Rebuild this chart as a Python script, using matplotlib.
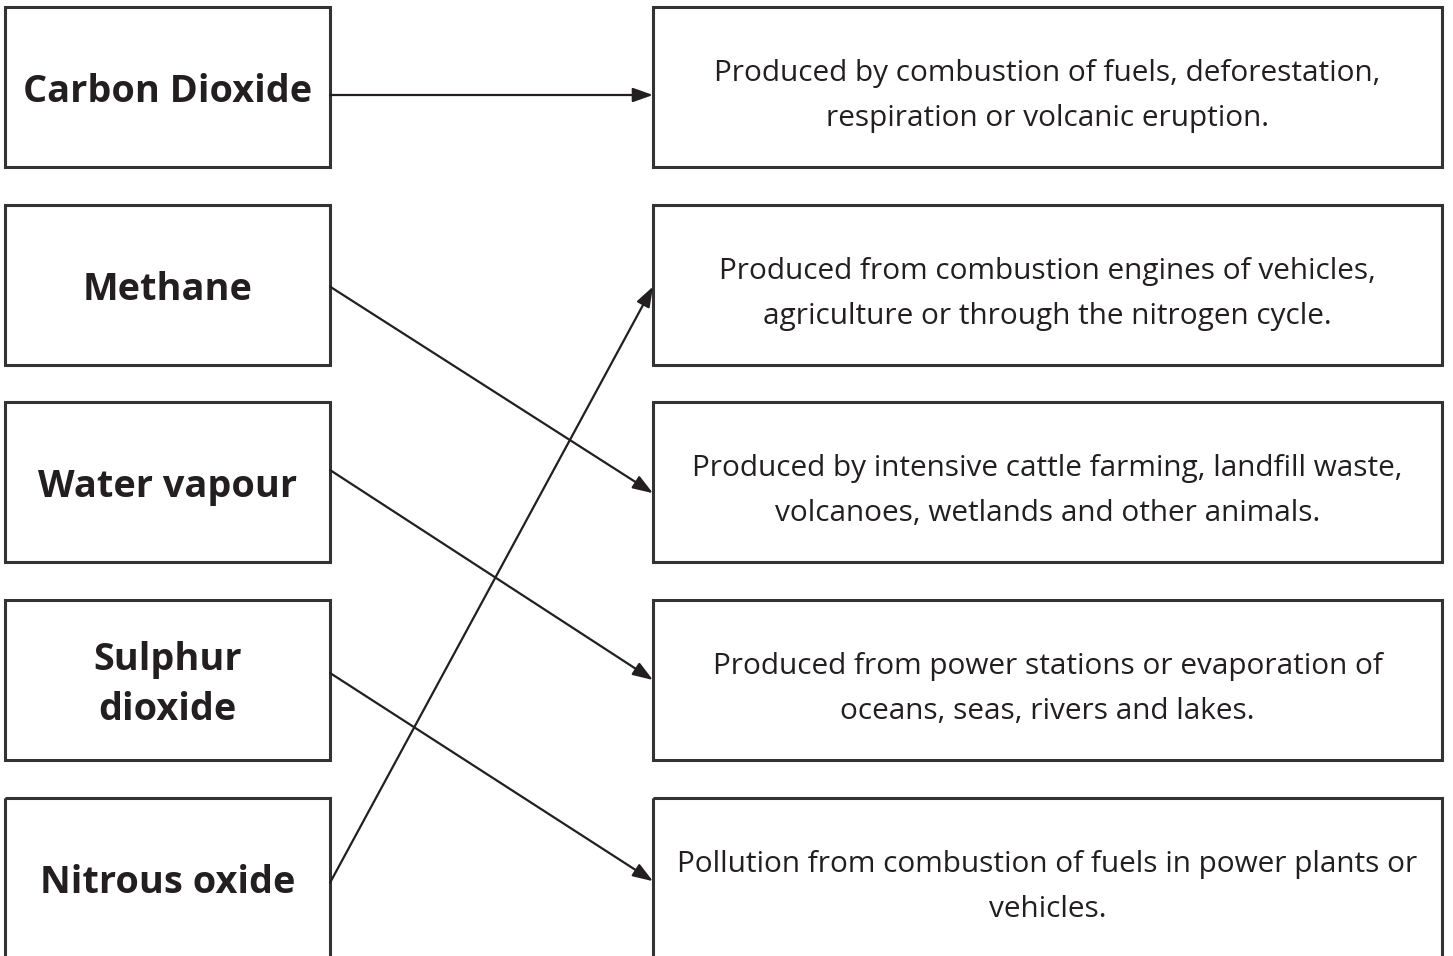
import matplotlib
matplotlib.use("Agg")
import matplotlib.pyplot as plt
from matplotlib.patches import Rectangle

W, H = 1453, 956
DPI = 100

left_labels = ["Carbon Dioxide", "Methane", "Water vapour", "Sulphur\ndioxide", "Nitrous oxide"]
right_labels = [
    "Produced by combustion of fuels, deforestation,\nrespiration or volcanic eruption.",
    "Produced from combustion engines of vehicles,\nagriculture or through the nitrogen cycle.",
    "Produced by intensive cattle farming, landfill waste,\nvolcanoes, wetlands and other animals.",
    "Produced from power stations or evaporation of\noceans, seas, rivers and lakes.",
    "Pollution from combustion of fuels in power plants or\nvehicles.",
]
# index of right box that each left box points to
matches = [0, 2, 3, 4, 1]
# where along each box height the arrow starts / ends (fraction from top)
start_frac = [0.55, 0.51, 0.425, 0.456, 0.53]
end_frac = [0.55, 0.57, 0.50, 0.52, 0.51]

# layout
box_tops = [7, 205, 402, 600, 798]
box_h = 160
left_x0, left_x1 = 5, 330
right_x0, right_x1 = 653, 1442

ink = "#231f20"
edge = "#333333"

fig = plt.figure(figsize=(W / DPI, H / DPI), dpi=DPI)
ax = fig.add_axes([0, 0, 1, 1])
ax.set_xlim(0, W)
ax.set_ylim(H, 0)
ax.axis("off")

for i, top in enumerate(box_tops):
    ax.add_patch(Rectangle((left_x0, top), left_x1 - left_x0, box_h, fill=False,
                           ec=edge, lw=2.2))
    ax.add_patch(Rectangle((right_x0, top), right_x1 - right_x0, box_h, fill=False,
                           ec=edge, lw=2.2))
    cy = top + box_h / 2
    ax.text((left_x0 + left_x1) / 2, cy + 5, left_labels[i], ha="center", va="center",
            fontsize=27.3, fontweight="bold", color=ink, family="Open Sans", linespacing=1.38)
    ax.text((right_x0 + right_x1) / 2, cy + 9, right_labels[i], ha="center", va="center",
            fontsize=21.4, color=ink, family="Open Sans", linespacing=1.7)

for i, j in enumerate(matches):
    y0 = box_tops[i] + start_frac[i] * box_h
    y1 = box_tops[j] + end_frac[i] * box_h
    ax.annotate("", xy=(right_x0, y1), xytext=(left_x1, y0),
                arrowprops=dict(arrowstyle="-|>,head_length=0.76,head_width=0.27",
                                mutation_scale=16, lw=1.6,
                                color=ink, shrinkA=0, shrinkB=0))

fig.savefig("out.png", dpi=DPI, facecolor="white")
